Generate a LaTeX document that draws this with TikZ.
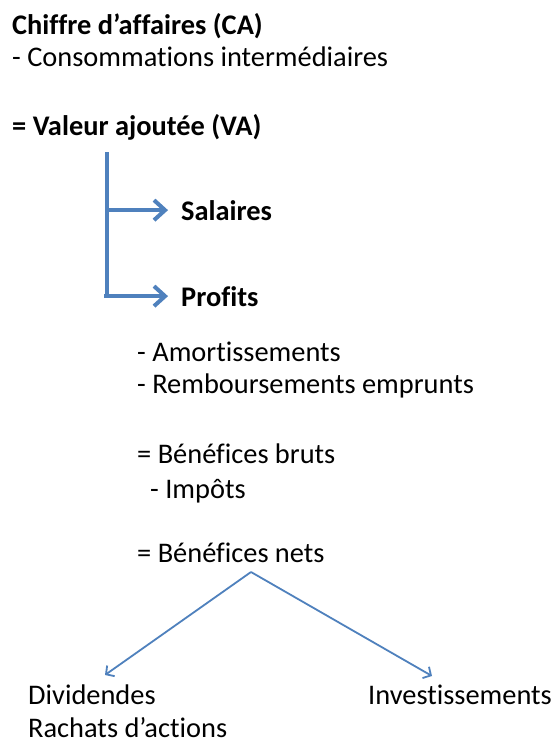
\documentclass[tikz,border=0pt]{standalone}
\usepackage{fontspec}
\setmainfont[Ligatures=NoCommon]{Carlito}
\usetikzlibrary{arrows.meta}
\definecolor{vablue}{HTML}{4F81BD}
\tikzset{
  txt/.style={anchor=base west,inner sep=0pt,font=\fontsize{28.4}{34}\selectfont},
  btxt/.style={txt,font=\fontsize{28.4}{34}\selectfont\bfseries},
  bigarrow/.style={draw=vablue,line width=4pt,-{Straight Barb[length=11pt,width=20pt,line width=4pt]}},
  bigline/.style={draw=vablue,line width=4pt},
  thinarrow/.style={draw=vablue,line width=1.8pt,-{Straight Barb[length=6pt,width=13pt,line width=1.8pt]}}
}
\begin{document}
\begin{tikzpicture}[x=1pt,y=-1pt]
\useasboundingbox[fill=white] (0,0) rectangle (554,742);
\node[btxt] (ca) at (12,34) {Chiffre d’affaires (CA)};
\node[txt] (ci) at (12,66) {- Consommations intermédiaires};
\node[btxt] (va) at (12,135) {= Valeur ajoutée (VA)};
\node[btxt] (sal) at (181,220) {Salaires};
\node[btxt] (prof) at (181,306) {Profits};
\node[txt] (amo) at (137,361) {- Amortissements};
\node[txt] (rem) at (137,393) {- Remboursements emprunts};
\node[txt] (bb) at (137,463) {= Bénéfices bruts};
\node[txt] (imp) at (150,498) {- Impôts};
\node[txt] (bn) at (137,562) {= Bénéfices nets};
\node[txt] (div) at (28,704) {Dividendes};
\node[txt] (rach) at (28,737) {Rachats d’actions};
\node[txt] (inv) at (368,704) {Investissements};
\coordinate (vtop) at (107,152);
\coordinate (apex) at (251,572);
\coordinate (tipL) at (105,675);
\coordinate (tipR) at (432,676);
\draw[bigline] (vtop) |- ([xshift=-3pt]prof.west -| vtop);
\draw[bigarrow] (vtop |- sal.west) -- ([xshift=-13pt]sal.west);
\draw[bigarrow] ([xshift=-2pt]vtop |- prof.west) -- ([xshift=-13pt]prof.west);
\draw[thinarrow] (apex) -- (tipL);
\draw[thinarrow] (apex) -- (tipR);
\end{tikzpicture}
\end{document}
